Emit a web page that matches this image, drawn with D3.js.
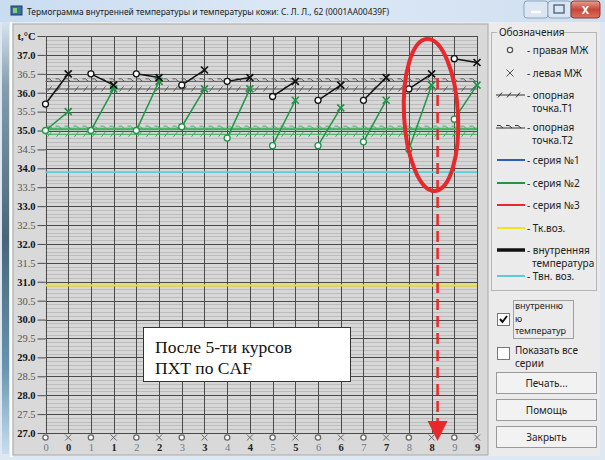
<!DOCTYPE html>
<html>
<head>
<meta charset="utf-8">
<script src="https://cdn.jsdelivr.net/npm/d3@7/dist/d3.min.js"></script>
<style>
  html, body { margin: 0; padding: 0; background: #dfe9f4; }
  svg { display: block; font-family: "Noto Sans", "DejaVu Sans", sans-serif; }
  .serif { font-family: "Liberation Serif", "DejaVu Serif", serif; }
</style>
</head>
<body>
<svg id="win" width="605" height="460"></svg>
<script>
// ---- data -------------------------------------------------------------
const sessions = [0, 1, 2, 3, 4, 5, 6, 7, 8, 9];
// internal temperature (right / left)
const innerRight = [35.7, 36.5, 36.5, 36.2, 36.3, 35.9, 35.8, 35.8, 36.1, 36.9];
const innerLeft  = [36.5, 36.2, 36.4, 36.6, 36.4, 36.3, 36.2, 36.4, 36.5, 36.8];
// series No.2 (right / left)
const series2Right = [35.0, 35.0, 35.0, 35.1, 34.8, 34.6, 34.6, 34.7, 34.5, 35.3];
const series2Left  = [35.5, 36.1, 36.3, 36.1, 36.1, 35.8, 35.6, 35.8, 36.2, 36.2];
// reference points T1 / T2 for internal temperature and series No.2
const refT1 = [36.1, 34.9];
const refT2 = [36.3, 35.05];
const airInner = 33.9;   // Твн.воз.
const airSkin  = 30.9;   // Тк.воз.
const yTicks = d3.range(27, 37.01, 0.5);
const legendItems = ["- правая МЖ", "- левая МЖ", "- опорная|точка.T1", "- опорная|точка.T2",
  "- серия №1", "- серия №2", "- серия №3", "- Тк.воз.", "- внутренняя|температура", "- Твн. воз."];

// ---- colours ----------------------------------------------------------
const C = {
  black: "#111", green: "#1e9646", greenRef: "#3bb35a", grayRef: "#5a5a5a",
  blue: "#2a5fc0", red: "#e8282a", yellow: "#f0e41e", cyan: "#5ecbdc",
  grid: "#4a4a4a", minor: "#bcbcbc", plotBg: "#d7d7d7"
};

const svg = d3.select("#win");

// ---- window frame -----------------------------------------------------
const defs = svg.append("defs");
const tg = defs.append("linearGradient").attr("id", "titleGrad").attr("x1", 0).attr("x2", 1);
tg.append("stop").attr("offset", 0).attr("stop-color", "#c9dcf0");
tg.append("stop").attr("offset", 0.5).attr("stop-color", "#dce8f5");
tg.append("stop").attr("offset", 1).attr("stop-color", "#cfdff0");
const lg = defs.append("linearGradient").attr("id", "leftGrad").attr("x1", 0).attr("x2", 0).attr("y1", 0).attr("y2", 1);
lg.append("stop").attr("offset", 0).attr("stop-color", "#d6e2ee");
lg.append("stop").attr("offset", 0.15).attr("stop-color", "#6f8a9c");
lg.append("stop").attr("offset", 0.5).attr("stop-color", "#23465a");
lg.append("stop").attr("offset", 0.8).attr("stop-color", "#4a7f9e");
lg.append("stop").attr("offset", 1).attr("stop-color", "#c4dcef");
const cg = defs.append("linearGradient").attr("id", "closeGrad").attr("x1", 0).attr("x2", 0).attr("y1", 0).attr("y2", 1);
cg.append("stop").attr("offset", 0).attr("stop-color", "#e8a093");
cg.append("stop").attr("offset", 0.5).attr("stop-color", "#c9463a");
cg.append("stop").attr("offset", 1).attr("stop-color", "#d8735e");

svg.append("rect").attr("width", 605).attr("height", 460).attr("fill", "#dde8f3");
svg.append("rect").attr("width", 605).attr("height", 22).attr("fill", "url(#titleGrad)");
svg.append("rect").attr("x", 2).attr("y", 22).attr("width", 7).attr("height", 432).attr("fill", "url(#leftGrad)").attr("opacity", 0.8);
svg.append("rect").attr("x", 10).attr("y", 22).attr("width", 3).attr("height", 435).attr("fill", "#fff");

// title
svg.append("rect").attr("x", 11).attr("y", 6).attr("width", 11).attr("height", 9).attr("fill", "#3b6ea5").attr("stroke", "#1d3f66");
svg.append("rect").attr("x", 13).attr("y", 8).attr("width", 4).attr("height", 5).attr("fill", "#7fd36a");
svg.append("text").attr("x", 27).attr("y", 15).attr("font-size", 9).attr("fill", "#1a1a1a")
  .attr("textLength", 362).attr("lengthAdjust", "spacingAndGlyphs")
  .text("Термограмма внутренней температуры и температуры кожи:  С. Л. Л., 62 (0001AA00439F)");

// caption buttons
const capBtn = [{x: 524, w: 24}, {x: 548, w: 23}];
capBtn.forEach(b => svg.append("rect").attr("x", b.x).attr("y", 1).attr("width", b.w).attr("height", 17)
  .attr("rx", 3).attr("fill", "#dbe6f2").attr("stroke", "#8ba3bf"));
svg.append("line").attr("x1", 531).attr("x2", 541).attr("y1", 12).attr("y2", 12).attr("stroke", "#fff").attr("stroke-width", 2.5);
svg.append("rect").attr("x", 554).attr("y", 5).attr("width", 10).attr("height", 8).attr("fill", "none").attr("stroke", "#5a6f88").attr("stroke-width", 1.5);
svg.append("rect").attr("x", 571).attr("y", 1).attr("width", 29).attr("height", 17).attr("rx", 3)
  .attr("fill", "url(#closeGrad)").attr("stroke", "#8a3a30");
svg.append("text").attr("x", 585.5).attr("y", 14).attr("text-anchor", "middle").attr("font-size", 11)
  .attr("font-weight", "bold").attr("fill", "#fff").text("X");

// client area
svg.append("rect").attr("x", 12).attr("y", 22).attr("width", 588).attr("height", 434).attr("fill", "#ebebeb");
// chart panel
svg.append("rect").attr("x", 13).attr("y", 24).attr("width", 475).attr("height", 431).attr("fill", "#d9d9d9")
  .attr("stroke", "#a8a8a8");

// ---- scales -----------------------------------------------------------
const x = d3.scaleLinear().domain([0, 19]).range([45.5, 477]);
const y = d3.scaleLinear().domain([27, 37.5]).range([433, 36]);
const xr = i => x(2 * i);       // right (o) position of session i
const xl = i => x(2 * i + 1);   // left (x) position of session i

// ---- plot background --------------------------------------------------
const plot = svg.append("g");
plot.append("rect").attr("x", x(0)).attr("y", y(37.5)).attr("width", x(19) - x(0)).attr("height", y(27) - y(37.5))
  .attr("fill", C.plotBg);
plot.append("g").selectAll("line").data(d3.range(270, 375, 1).map(v => v / 10))
  .join("line").attr("x1", x(0)).attr("x2", x(19))
  .attr("y1", d => Math.round(y(d)) + 0.5).attr("y2", d => Math.round(y(d)) + 0.5)
  .attr("stroke", C.minor).attr("stroke-width", 1);

// y axis with major grid
const isWhole = d => Math.abs(d % 1) < 1e-6 || d === 37.5;
const yAxis = d3.axisLeft(y).tickValues(yTicks.concat([37.5])).tickSize(8).tickPadding(2)
  .tickFormat(d => d === 37.5 ? "t,°C" : d.toFixed(1));
const gy = svg.append("g").attr("transform", `translate(${x(0)},0)`).call(yAxis);
gy.select(".domain").remove();
gy.selectAll(".tick line").attr("stroke", C.grid);
gy.selectAll(".tick text").attr("class", "serif").attr("font-family", null).attr("font-size", 10.5)
  .attr("font-weight", d => isWhole(d) ? "bold" : "normal")
  .attr("fill", d => isWhole(d) ? "#111" : "#555");
plot.append("g").selectAll("line").data(yTicks.concat([37.5])).join("line")
  .attr("x1", x(0)).attr("x2", x(19))
  .attr("y1", d => Math.round(y(d)) + 0.5).attr("y2", d => Math.round(y(d)) + 0.5)
  .attr("stroke", C.grid).attr("stroke-width", 1);
plot.append("g").selectAll("line").data(d3.range(20)).join("line")
  .attr("x1", d => Math.round(x(d)) + 0.5).attr("x2", d => Math.round(x(d)) + 0.5)
  .attr("y1", y(37.5)).attr("y2", y(27))
  .attr("stroke", C.grid).attr("stroke-width", 1);

// x axis: marker row + session number row
const xAxis = d3.axisBottom(x).tickValues(d3.range(20)).tickSize(0).tickPadding(11)
  .tickFormat(d => String(Math.floor(d / 2)));
const gx = svg.append("g").attr("transform", `translate(0,${y(27)})`).call(xAxis);
gx.select(".domain").remove();
gx.selectAll(".tick text").attr("class", "serif").attr("font-family", null).attr("font-size", 10.5)
  .attr("font-weight", d => d % 2 ? "bold" : "normal")
  .attr("fill", d => d % 2 ? "#222" : "#6a7a90");

// ---- marker helpers ---------------------------------------------------
function circleMark(g, cx, cy, color, r = 3) {
  g.append("circle").attr("cx", cx).attr("cy", cy).attr("r", r).attr("fill", "#fff")
    .attr("stroke", color).attr("stroke-width", 1.3);
}
function crossMark(g, cx, cy, color, s = 3.5, w = 1.6) {
  g.append("path").attr("d", `M${cx - s},${cy - s}L${cx + s},${cy + s}M${cx - s},${cy + s}L${cx + s},${cy - s}`)
    .attr("stroke", color).attr("stroke-width", w).attr("fill", "none");
}
// reference line styles
function refLineT1(g, x0, x1, yy, color) {
  g.append("line").attr("x1", x0).attr("x2", x1).attr("y1", yy).attr("y2", yy).attr("stroke", color).attr("stroke-width", 1);
  const marks = d3.range(x0 + 4, x1 - 2, 9);
  g.append("path").attr("d", marks.map(m => `M${m - 2},${yy + 2.5}L${m + 2},${yy - 2.5}`).join(""))
    .attr("stroke", color).attr("stroke-width", 1).attr("fill", "none");
}
function refLineT2(g, x0, x1, yy, color) {
  g.append("line").attr("x1", x0).attr("x2", x1).attr("y1", yy).attr("y2", yy).attr("stroke", color).attr("stroke-width", 1);
  const marks = d3.range(x0 + 4, x1 - 2, 9);
  g.append("path").attr("d", marks.map(m => `M${m - 3},${yy - 2.5}L${m},${yy - 2.5}L${m + 3},${yy}`).join(""))
    .attr("stroke", color).attr("stroke-width", 1).attr("fill", "none");
}

// ---- reference lines --------------------------------------------------
const refs = svg.append("g");
refLineT2(refs, x(0), x(19), y(refT2[0]), C.grayRef);
refLineT1(refs, x(0), x(19), y(refT1[0]), C.grayRef);
refLineT2(refs, x(0), x(19), y(refT2[1]), C.greenRef);
refs.append("line").attr("x1", x(0)).attr("x2", x(19)).attr("y1", y(refT2[1]) + 1).attr("y2", y(refT2[1]) + 1)
  .attr("stroke", C.greenRef).attr("stroke-width", 1.2);
refLineT1(refs, x(0), x(19), y(refT1[1]), C.greenRef);

// air temperatures
svg.append("line").attr("x1", x(0)).attr("x2", x(19)).attr("y1", y(airInner)).attr("y2", y(airInner))
  .attr("stroke", C.cyan).attr("stroke-width", 1.6);
svg.append("line").attr("x1", x(0)).attr("x2", x(19)).attr("y1", y(airSkin)).attr("y2", y(airSkin))
  .attr("stroke", C.yellow).attr("stroke-width", 2);

// ---- series -----------------------------------------------------------
function drawPairs(right, left, color) {
  const g = svg.append("g");
  sessions.forEach(i => {
    g.append("line").attr("x1", xr(i)).attr("y1", y(right[i])).attr("x2", xl(i)).attr("y2", y(left[i]))
      .attr("stroke", color).attr("stroke-width", 1.5);
  });
  sessions.forEach(i => {
    circleMark(g, xr(i), y(right[i]), color);
    crossMark(g, xl(i), y(left[i]), color);
  });
}
drawPairs(series2Right, series2Left, C.green);
drawPairs(innerRight, innerLeft, C.black);

// x-axis marker row
const mrow = svg.append("g");
d3.range(20).forEach(d => {
  if (d % 2 === 0) circleMark(mrow, x(d), 437.5, "#666", 2.6);
  else crossMark(mrow, x(d), 437.5, "#666", 3, 1);
});

// ---- annotations ------------------------------------------------------
const note = svg.append("g");
note.append("rect").attr("x", 143.5).attr("y", 327.5).attr("width", 207).attr("height", 54)
  .attr("fill", "#fff").attr("stroke", "#333").attr("stroke-width", 1);
note.append("text").attr("class", "serif").attr("x", 155).attr("y", 353)
  .attr("font-size", 17.5).attr("fill", "#111").text("После 5-ти курсов");
note.append("text").attr("class", "serif").attr("x", 155).attr("y", 374)
  .attr("font-size", 17.5).attr("fill", "#111").text("ПХТ по CAF");

const hx = xl(8) + 6;
note.append("ellipse").attr("cx", 431).attr("cy", 115).attr("rx", 27).attr("ry", 76)
  .attr("transform", "rotate(-3,431,115)")
  .attr("fill", "none").attr("stroke", C.red).attr("stroke-width", 4);
note.append("line").attr("x1", hx).attr("x2", hx).attr("y1", 78).attr("y2", 424)
  .attr("stroke", C.red).attr("stroke-width", 2.5).attr("stroke-dasharray", "11,6");
note.append("path").attr("d", `M${hx - 10},${421}L${hx + 10},${421}L${hx},${441}Z`).attr("fill", C.red);

// ---- legend panel -----------------------------------------------------
const lgd = svg.append("g");
lgd.append("rect").attr("x", 491.5).attr("y", 32.5).attr("width", 105).attr("height", 258)
  .attr("fill", "none").attr("stroke", "#b5b5b5");
lgd.append("rect").attr("x", 497).attr("y", 26).attr("width", 66).attr("height", 12).attr("fill", "#ebebeb");
lgd.append("text").attr("x", 499).attr("y", 36).attr("font-size", 10).attr("fill", "#222").text("Обозначения");

const ly = [50, 73, 95, 127, 160, 183, 205, 228, 250, 276];
legendItems.forEach((t, k) => {
  const parts = t.split("|");
  const tx = lgd.append("text").attr("x", 527).attr("y", ly[k] + 3.5).attr("font-size", 10).attr("fill", "#222");
  tx.append("tspan").text(parts[0]);
  if (parts[1]) tx.append("tspan").attr("x", 532).attr("dy", 13).text(parts[1]);
});
circleMark(lgd, 510, ly[0], "#555", 2.6);
crossMark(lgd, 510, ly[1], "#555", 3.5, 1);
refLineT1(lgd, 496, 525, ly[2], "#333");
refLineT2(lgd, 496, 525, ly[3] + 1, "#333");
const swatches = [[C.blue, 2], [C.green, 2], [C.red, 2], [C.yellow, 2], [C.black, 3.5], [C.cyan, 2]];
swatches.forEach(([c, w], k) => {
  lgd.append("line").attr("x1", 497).attr("x2", 525).attr("y1", ly[k + 4]).attr("y2", ly[k + 4])
    .attr("stroke", c).attr("stroke-width", w);
});

// checkboxes
function checkbox(cx, cy, checked) {
  lgd.append("rect").attr("x", cx + 0.5).attr("y", cy + 0.5).attr("width", 12).attr("height", 12)
    .attr("fill", "#fff").attr("stroke", "#777");
  if (checked) lgd.append("path").attr("d", `M${cx + 3},${cy + 6}L${cx + 5.5},${cy + 9}L${cx + 10},${cy + 3}`)
    .attr("stroke", "#111").attr("stroke-width", 2).attr("fill", "none");
}
checkbox(497, 313, true);
lgd.append("rect").attr("x", 513.5).attr("y", 300.5).attr("width", 60).attr("height", 38)
  .attr("fill", "none").attr("stroke", "#555").attr("stroke-dasharray", "1,1");
[["внутренню", 309], ["ю", 321.5], ["температур", 334]].forEach(([t, yy]) =>
  lgd.append("text").attr("x", 515).attr("y", yy).attr("font-size", 9).attr("fill", "#222").text(t));
checkbox(497, 347, false);
lgd.append("text").attr("x", 515).attr("y", 354).attr("font-size", 10).attr("fill", "#222").text("Показать все");
lgd.append("text").attr("x", 515).attr("y", 367).attr("font-size", 10).attr("fill", "#222").text("серии");

// buttons
[["Печать...", 372], ["Помощь", 399], ["Закрыть", 426]].forEach(([t, yy]) => {
  lgd.append("rect").attr("x", 496.5).attr("y", yy + 0.5).attr("width", 100).attr("height", 21)
    .attr("fill", "#f2f2f2").attr("stroke", "#9a9a9a");
  lgd.append("text").attr("x", 546.5).attr("y", yy + 15).attr("text-anchor", "middle")
    .attr("font-size", 10).attr("fill", "#222").text(t);
});
</script>
</body>
</html>
